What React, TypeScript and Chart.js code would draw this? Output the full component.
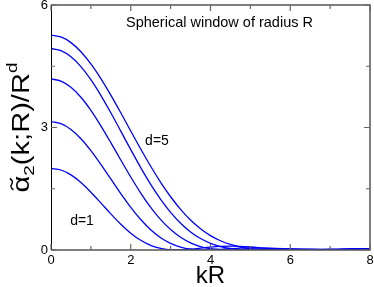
import React, { useEffect, useRef } from "react";
import { Chart, registerables } from "chart.js";

Chart.register(...registerables);

// kR sample positions
const kR = [0, 0.25, 0.5, 0.75, 1, 1.25, 1.5, 1.75, 2, 2.25, 2.5, 2.75, 3, 3.25, 3.5, 3.75, 4, 4.25, 4.5, 4.75, 5, 5.5, 6, 6.5, 7, 7.5, 8];

// alpha_2(k;R)/R^d, one list per dimension
const d1 = [2.0, 1.959, 1.839, 1.652, 1.416, 1.153, 0.884, 0.632, 0.413, 0.239, 0.115, 0.039, 0.004, 0.002, 0.02, 0.047, 0.072, 0.089, 0.094, 0.089, 0.074, 0.033, 0.004, 0.002, 0.018, 0.031, 0.031];
const d2 = [3.142, 3.093, 2.95, 2.725, 2.433, 2.097, 1.739, 1.381, 1.045, 0.747, 0.497, 0.302, 0.161, 0.069, 0.019, 0.001, 0.003, 0.017, 0.033, 0.047, 0.054, 0.048, 0.027, 0.007, 0.0, 0.004, 0.011];
const d3 = [4.189, 4.137, 3.984, 3.74, 3.419, 3.042, 2.63, 2.204, 1.787, 1.395, 1.045, 0.745, 0.501, 0.312, 0.176, 0.085, 0.032, 0.006, 0.0, 0.005, 0.014, 0.029, 0.03, 0.019, 0.007, 0.001, 0.001];
const d4 = [4.935, 4.884, 4.733, 4.491, 4.17, 3.787, 3.36, 2.911, 2.457, 2.018, 1.609, 1.24, 0.921, 0.655, 0.443, 0.281, 0.164, 0.083, 0.037, 0.011, 0.001, 0.005, 0.014, 0.017, 0.012, 0.005, 0.001];
const d5 = [5.264, 5.217, 5.079, 4.856, 4.558, 4.199, 3.794, 3.361, 2.915, 2.474, 2.051, 1.658, 1.304, 0.995, 0.734, 0.521, 0.353, 0.226, 0.135, 0.073, 0.034, 0.003, 0.001, 0.007, 0.009, 0.007, 0.004];

const seriesNames = ["d=1", "d=2", "d=3", "d=4", "d=5"];

// axis ticks
const xTickLabels = [0, 2, 4, 6, 8];
const yTickLabels = [0, 3, 6];
const xTickMarks = [0, 1, 2, 3, 4, 5, 6, 7, 8];
const yTickMarks = [0, 1.5, 3, 4.5, 6];

const titleText = "Spherical window of radius R";
const xTitle = "kR";

const FONT = "'Liberation Sans', Arial, Helvetica, sans-serif";

const framePlugin = {
  id: "frameAndText",
  afterDatasetsDraw(chart: any) {
    const ctx: CanvasRenderingContext2D = chart.ctx;
    const { left, right, top, bottom } = chart.chartArea;
    const xs = chart.scales.x;
    const ys = chart.scales.y;
    ctx.save();
    // frame
    ctx.lineWidth = 1.5;
    ctx.strokeStyle = "#555";
    ctx.beginPath();
    ctx.moveTo(left, top);
    ctx.lineTo(right, top);
    ctx.lineTo(right, bottom);
    ctx.lineTo(left, bottom);
    ctx.stroke();
    ctx.strokeStyle = "#000";
    ctx.lineWidth = 1;
    ctx.beginPath();
    ctx.moveTo(left + 0.5, top);
    ctx.lineTo(left + 0.5, bottom);
    ctx.stroke();

    // ticks (inward)
    ctx.strokeStyle = "#666";
    ctx.lineWidth = 1.2;
    ctx.beginPath();
    xTickMarks.forEach((v) => {
      const px = xs.getPixelForValue(v);
      const len = xTickLabels.includes(v) ? 6 : 4;
      ctx.moveTo(px, bottom);
      ctx.lineTo(px, bottom - len);
      ctx.moveTo(px, top);
      ctx.lineTo(px, top + len);
    });
    yTickMarks.forEach((v) => {
      const py = ys.getPixelForValue(v);
      const len = yTickLabels.includes(v) ? 6 : 4;
      ctx.moveTo(left, py);
      ctx.lineTo(left + len, py);
      ctx.moveTo(right, py);
      ctx.lineTo(right - len, py);
    });
    ctx.stroke();

    // in-plot texts
    ctx.fillStyle = "#000";
    ctx.textBaseline = "alphabetic";
    ctx.textAlign = "left";
    ctx.font = `14.5px ${FONT}`;
    ctx.fillText(titleText, xs.getPixelForValue(1.88), ys.getPixelForValue(5.46));
    ctx.font = `14px ${FONT}`;
    ctx.fillText(seriesNames[4], xs.getPixelForValue(2.36), ys.getPixelForValue(2.57));
    ctx.fillText(seriesNames[0], xs.getPixelForValue(0.48), ys.getPixelForValue(0.61));

    // x title
    ctx.font = `24px ${FONT}`;
    ctx.textAlign = "center";
    ctx.fillText(xTitle, (left + right) / 2, 283);

    // y title, rotated
    const f = 23;
    const fs = 15;
    ctx.save();
    ctx.translate(29, (top + bottom) / 2);
    ctx.rotate(-Math.PI / 2);
    const parts = [
      { t: "\u03b1", size: f, dy: 0 },
      { t: "2", size: fs, dy: 5 },
      { t: "(k;R)/R", size: f, dy: 0 },
      { t: "d", size: fs, dy: -12 },
    ];
    let total = 0;
    const widths = parts.map((p) => {
      ctx.font = `${p.size}px ${FONT}`;
      const w = ctx.measureText(p.t).width;
      total += w;
      return w;
    });
    const sx = 130 / total;
    ctx.scale(sx, 1);
    ctx.textAlign = "left";
    let cx = -total / 2;
    parts.forEach((p, i) => {
      ctx.font = `${p.size}px ${FONT}`;
      ctx.fillText(p.t, cx, p.dy);
      if (i === 0) {
        const mid = cx + widths[0] / 2;
        ctx.lineWidth = 1.4;
        ctx.strokeStyle = "#000";
        ctx.beginPath();
        ctx.moveTo(mid - 4.5, -15.5);
        ctx.quadraticCurveTo(mid - 2.3, -19.5, mid, -17.3);
        ctx.quadraticCurveTo(mid + 2.3, -15.2, mid + 4.5, -19.2);
        ctx.stroke();
      }
      cx += widths[i];
    });
    ctx.restore();

    ctx.restore();
  },
};

export default function App() {
  const ref = useRef<HTMLCanvasElement>(null);
  useEffect(() => {
    document.body.style.margin = "0";
    const canvas = ref.current!;
    const series = [d1, d2, d3, d4, d5];
    const chart = new Chart(canvas, {
      type: "scatter",
      data: {
        datasets: series.map((s, i) => ({
          label: seriesNames[i],
          data: kR.map((x, j) => ({ x, y: s[j] })),
          showLine: true,
          borderColor: "#0000ff",
          borderWidth: 1.3,
          pointRadius: 0,
          cubicInterpolationMode: "monotone" as const,
          fill: false,
        })),
      },
      options: {
        animation: false,
        responsive: false,
        devicePixelRatio: 1,
        layout: { padding: { top: 5, right: 4, left: 0, bottom: 0 } },
        plugins: {
          legend: { display: false },
          tooltip: { enabled: false },
          title: { display: false },
        },
        scales: {
          x: {
            type: "linear",
            min: 0,
            max: 8,
            afterBuildTicks: (s: any) => {
              s.ticks = xTickLabels.map((v) => ({ value: v }));
            },
            afterFit: (s: any) => {
              s.height = 37;
              s.paddingLeft = 0;
              s.paddingRight = 0;
            },
            grid: { display: false, drawTicks: false },
            border: { display: false },
            ticks: {
              padding: 3,
              color: "#000",
              maxRotation: 0,
              autoSkip: false,
              font: { family: FONT, size: 13 },
            },
          },
          y: {
            type: "linear",
            min: 0,
            max: 6,
            afterBuildTicks: (s: any) => {
              s.ticks = yTickLabels.map((v) => ({ value: v }));
            },
            afterFit: (s: any) => {
              s.width = 51;
              s.paddingTop = 0;
              s.paddingBottom = 0;
            },
            grid: { display: false, drawTicks: false },
            border: { display: false },
            ticks: {
              padding: 3,
              color: "#000",
              autoSkip: false,
              font: { family: FONT, size: 13 },
            },
          },
        },
      },
      plugins: [framePlugin],
    });
    return () => chart.destroy();
  }, []);
  return <canvas ref={ref} width={374} height={287} style={{ display: "block" }} />;
}
